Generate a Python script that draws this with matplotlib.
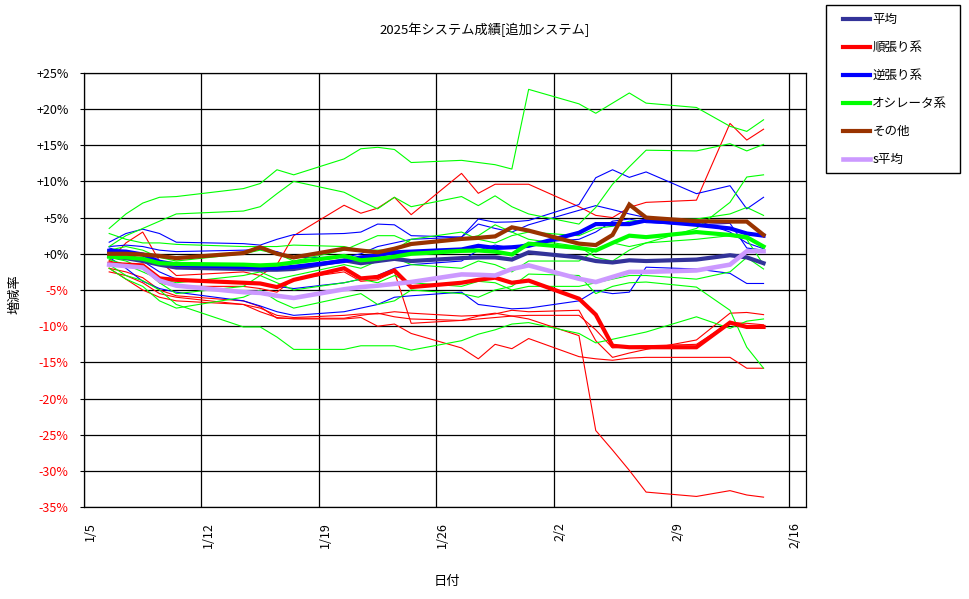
import matplotlib
matplotlib.use("Agg")
import matplotlib.pyplot as plt
import matplotlib.transforms as mtrans
from matplotlib.patches import Rectangle
import pandas as pd

plt.rcParams['font.family'] = ['Noto Sans CJK JP', 'DejaVu Sans']

# ---------------- data ----------------
dates = ["2025-01-06", "2025-01-07", "2025-01-08", "2025-01-09", "2025-01-10",
         "2025-01-14", "2025-01-15", "2025-01-16", "2025-01-17",
         "2025-01-20", "2025-01-21", "2025-01-22", "2025-01-23", "2025-01-24",
         "2025-01-27", "2025-01-28", "2025-01-29", "2025-01-30", "2025-01-31",
         "2025-02-03", "2025-02-04", "2025-02-05", "2025-02-06", "2025-02-07",
         "2025-02-10", "2025-02-12", "2025-02-13", "2025-02-14"]

# thick summary series (%)
heikin = [-0.3, -0.6, -1.0, -1.5, -1.9, -2.1, -2.2, -2.2, -2.1, -0.9, -1.3, -1.0, -0.7, -1.0,
          -0.6, -0.5, -0.5, -0.8, 0.2, -0.5, -1.0, -1.2, -0.9, -1.0, -0.8, -0.2, -0.5, -1.3]
junbari = [-1.4, -1.5, -1.6, -3.4, -3.6, -4.0, -4.1, -4.6, -3.6, -2.0, -3.4, -3.2, -2.3, -4.6,
           -4.0, -3.6, -3.3, -4.0, -3.7, -6.2, -8.4, -12.7, -12.9, -12.9, -12.9, -9.5, -10.1, -10.1]
gyakubari = [0.4, 0.3, -0.1, -1.1, -1.5, -1.8, -1.9, -2.0, -1.8, -1.0, -0.5, -0.2, 0.2, 0.3,
             0.6, 1.1, 0.8, 0.9, 1.1, 2.9, 4.1, 4.1, 4.1, 4.6, 4.0, 3.5, 2.8, 2.5]
oscillator = [-0.4, -0.5, -0.7, -1.3, -1.4, -1.5, -1.6, -1.5, -1.2, -0.3, -0.9, -0.7, -0.4, 0.0,
              0.4, 0.45, 0.3, -0.1, 1.4, 0.8, 0.45, 1.5, 2.5, 2.3, 3.0, 2.6, 2.3, 1.0]
sonota = [0.0, 0.0, -0.1, -0.3, -0.6, 0.1, 0.9, 0.0, -0.5, 0.7, 0.45, 0.2, 0.7, 1.35,
          2.05, 2.2, 2.4, 3.65, 3.2, 1.4, 1.2, 2.6, 6.8, 5.0, 4.5, 4.45, 4.45, 2.6]
s_heikin = [-1.5, -1.7, -1.9, -3.7, -4.4, -5.3, -5.4, -5.8, -6.1, -4.9, -4.6, -4.4, -4.15, -3.9,
            -2.85, -2.9, -3.0, -2.1, -1.6, -3.45, -3.9, -3.2, -2.5, -2.5, -2.3, -1.5, 0.35, 0.35]

# thin: individual trend-following systems (順張り)
jun_a = [-1.0, 1.5, 3.0, -1.0, -3.0, -2.5, -3.0, -1.5, 2.5, 6.7, 5.6, 6.3, 7.8, 5.4,
         11.1, 8.35, 9.6, 9.6, 9.6, 6.5, 5.3, 5.0, 6.4, 7.1, 7.4, 18.0, 15.7, 17.2]
jun_b = [-1.0, -1.5, -2.0, -4.0, -4.5, -4.5, -4.8, -5.3, -3.5, -2.5, -3.8, -3.6, -2.5, -9.6,
         -9.2, -8.6, -8.3, -7.8, -8.0, -7.8, -12.0, -14.3, -13.7, -13.2, -11.9, -8.2, -8.1, -8.4]
jun_c = [-2.0, -2.5, -3.3, -5.0, -5.8, -6.5, -7.3, -8.9, -8.9, -8.9, -8.5, -8.2, -8.7, -9.0,
         -9.2, -9.0, -8.8, -8.6, -8.5, -8.5, -10.5, -13.0, -12.8, -12.7, -12.5, -9.5, -9.6, -9.8]
jun_d = [-2.5, -3.0, -4.0, -5.5, -6.0, -7.0, -7.5, -8.5, -8.8, -8.5, -8.3, -8.3, -8.0, -8.2,
         -8.6, -8.5, -8.2, -8.6, -9.0, -11.3, -24.4, -27.1, -29.9, -32.9, -33.5, -32.7, -33.3, -33.6]
jun_e = [-2.0, -3.5, -5.0, -6.0, -6.5, -7.0, -8.0, -8.8, -9.0, -9.0, -8.8, -10.0, -9.7, -11.0,
         -13.0, -14.5, -12.5, -13.1, -11.7, -14.2, -14.5, -14.7, -14.4, -14.3, -14.3, -14.3, -15.8, -15.8]

# thin: individual counter-trend systems (逆張り)
gyaku_a = [1.6, 2.8, 3.4, 2.8, 1.6, 1.4, 1.2, 2.0, 2.65, 2.8, 3.0, 4.1, 4.0, 2.5,
           2.3, 4.8, 4.35, 4.4, 4.6, 6.8, 10.5, 11.6, 10.55, 11.3, 8.3, 9.4, 6.2, 7.8]
gyaku_b = [1.0, 1.2, 1.0, 0.5, 0.3, 0.5, 0.6, 0.3, -0.5, -0.5, 0.0, 1.0, 1.5, 2.0,
           2.3, 4.1, 3.5, 3.0, 4.0, 6.0, 6.65, 6.1, 5.5, 5.0, 4.6, 3.0, 1.5, 0.7]
gyaku_c = [-0.5, -2.0, -3.8, -4.8, -5.3, -6.5, -7.2, -8.0, -8.5, -8.0, -7.5, -7.0, -6.0, -5.8,
           -5.3, -7.0, -7.3, -7.6, -7.5, -6.5, -5.1, -5.5, -5.3, -1.85, -2.1, -2.7, -4.1, -4.1]
gyaku_d = [0.8, 0.2, -1.0, -2.5, -3.5, -4.0, -4.2, -4.5, -4.8, -4.0, -3.5, -3.0, -2.0, -1.5,
           -1.0, 0.5, 1.2, 0.8, 1.5, 2.0, 3.0, 4.5, 4.8, 4.3, 4.0, 4.2, 0.8, 0.5]

# thin: individual oscillator systems (オシレータ)
osc_a = [3.5, 5.5, 7.0, 7.8, 7.9, 9.0, 9.7, 11.6, 10.9, 13.1, 14.5, 14.7, 14.4, 12.6,
         12.9, 12.6, 12.3, 11.7, 22.7, 20.7, 19.4, 20.8, 22.2, 20.8, 20.2, 17.6, 16.9, 18.5]
osc_b = [1.0, 2.5, 3.5, 4.5, 5.5, 5.9, 6.5, 8.3, 10.0, 8.5, 7.3, 6.2, 7.8, 6.5,
         7.9, 6.65, 8.0, 6.5, 5.5, 4.1, 6.4, 9.6, 12.0, 14.3, 14.2, 15.2, 14.2, 15.1]
osc_c = [-1.5, -3.0, -3.7, -5.0, -7.0, -10.1, -10.1, -11.5, -13.2, -13.2, -12.7, -12.7, -12.7, -13.3,
         -12.0, -11.1, -10.5, -9.7, -9.5, -11.0, -12.3, -11.8, -11.3, -10.8, -8.7, -10.3, -9.3, -9.0]
osc_d = [-2.0, -3.5, -4.5, -6.5, -7.5, -6.0, -5.0, -6.5, -7.5, -6.0, -5.5, -7.0, -6.5, -5.0,
         -5.5, -6.0, -5.0, -4.5, -2.8, -3.0, -5.5, -4.5, -4.0, -3.9, -4.6, -7.8, -12.9, -15.8]
osc_e = [2.8, 2.0, 1.5, 1.5, 1.3, 1.0, 1.0, 1.0, 1.2, 1.0, 0.5, 0.5, 0.5, 2.0,
         3.0, 2.0, 1.5, 2.5, 3.0, 2.5, 3.5, 3.8, 4.5, 4.6, 4.8, 5.5, 6.4, 5.3]
osc_f = [-0.8, -1.5, -2.5, -3.5, -4.0, -3.0, -2.5, -3.5, -3.0, -1.5, -2.0, -1.0, -0.5, -1.5,
         -2.0, -1.0, -1.5, -2.5, -1.0, -1.0, 0.5, 1.5, 1.0, 1.5, 3.5, 7.1, 10.6, 10.9]
osc_g = [0.5, 1.0, 0.5, -0.5, -1.0, 0.0, 0.5, 0.0, -1.0, 0.5, 1.5, 2.5, 2.5, 1.5,
         2.0, 2.5, 4.0, 3.0, 2.0, 1.0, -0.5, -1.0, 0.5, 1.5, 2.0, 2.5, 2.0, -1.5]
osc_h = [-0.5, -1.0, -2.0, -4.0, -5.5, -4.5, -3.0, -4.0, -5.0, -4.0, -3.5, -4.0, -3.0, -4.0,
         -4.5, -3.8, -4.0, -5.0, -4.5, -4.5, -4.0, -3.5, -3.0, -3.0, -3.5, -2.5, -0.5, -2.1]

y_ticks = [25, 20, 15, 10, 5, 0, -5, -10, -15, -20, -25, -30, -35]
x_tick_dates = ["2025-01-05", "2025-01-12", "2025-01-19", "2025-01-26",
                "2025-02-02", "2025-02-09", "2025-02-16"]
x_tick_labels = ["1/5", "1/12", "1/19", "1/26", "2/2", "2/9", "2/16"]

legend_labels = ["平均", "順張り系", "逆張り系", "オシレータ系", "その他", "s平均"]

# ---------------- figure ----------------
W, H = 970, 599
fig = plt.figure(figsize=(W / 100, H / 100), dpi=100)
left, right, top, bottom = 84, 805.5, 72.7, 507.3
ax = fig.add_axes([left / W, 1 - bottom / H, (right - left) / W, (bottom - top) / H])

xs = pd.to_datetime(dates) + pd.Timedelta(hours=12)

thin_red = [jun_a, jun_b, jun_c, jun_d, jun_e]
thin_blue = [gyaku_a, gyaku_b, gyaku_c, gyaku_d]
thin_green = [osc_a, osc_b, osc_c, osc_d, osc_e, osc_f, osc_g, osc_h]

for s in thin_red:
    ax.plot(xs, s, color="#FF0000", lw=0.8, zorder=3)
for s in thin_blue:
    ax.plot(xs, s, color="#0000FF", lw=0.8, zorder=3)
for s in thin_green:
    ax.plot(xs, s, color="#00FF00", lw=0.8, zorder=3)

thick = [(heikin, "#333399", 3.0), (junbari, "#FF0000", 3.0), (gyakubari, "#0000FF", 3.0),
         (oscillator, "#00FF00", 3.0), (sonota, "#993300", 3.0), (s_heikin, "#CC99FF", 3.3)]
handles = []
for (s, c, lw), lab in zip(thick, legend_labels):
    h, = ax.plot(xs, s, color=c, lw=lw, zorder=4, label=lab, solid_joinstyle="miter")
    handles.append(h)

ax.set_ylim(-35, 25)
ax.set_xlim(pd.Timestamp("2025-01-05"), pd.Timestamp("2025-02-17"))
ax.set_yticks(y_ticks)
ax.set_yticklabels([("+%d%%" % v) if v >= 0 else ("%d%%" % v) for v in y_ticks])
for lbl, v in zip(ax.get_yticklabels(), y_ticks):
    lbl.set_color("black" if v >= 0 else "#FF0000")
ax.set_xticks(pd.to_datetime(x_tick_dates))
ax.set_xticklabels(x_tick_labels, rotation=90, va="top", ha="left")

ax.tick_params(axis="y", direction="out", length=3, width=0.8, pad=8, labelsize=9)
ax.tick_params(axis="x", length=0, pad=11, labelsize=9)
ax.grid(True, color="black", lw=0.9, zorder=1)
ax.set_axisbelow(True)
for sp in ax.spines.values():
    sp.set_color("black")
    sp.set_linewidth(0.9)

fig.text(485 / W, 1 - 30 / H, "2025年システム成績[追加システム]", ha="center", va="center", fontsize=9.5)
fig.text(15 / W, 1 - 294 / H, "増減率", ha="center", va="center", rotation=90, fontsize=9.5)
fig.text(447 / W, 1 - 582 / H, "日付", ha="center", va="center", fontsize=9.5)

# legend
fig.patches.append(Rectangle((826 / W, 1 - 173 / H), 134 / W, 168 / H, transform=fig.transFigure,
                             fill=False, edgecolor="black", lw=1.0))
fig.legend(handles, legend_labels, loc="upper left", bbox_to_anchor=(843 / W, 1 - 13 / H),
           frameon=False, borderpad=0, borderaxespad=0, handlelength=2.2, handletextpad=0.15,
           labelspacing=1.2, fontsize=9)

fig.savefig("out.png", dpi=100)
